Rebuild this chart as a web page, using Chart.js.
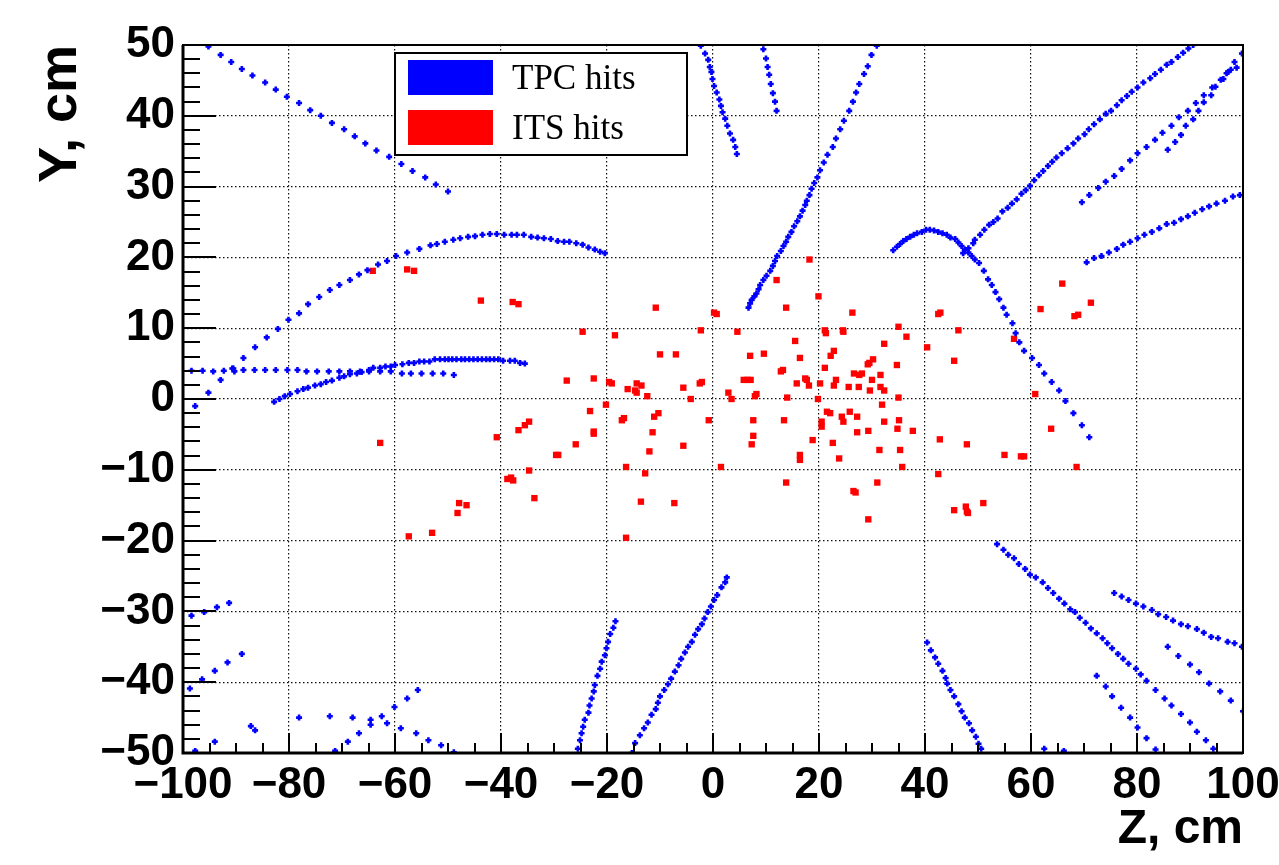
<!DOCTYPE html>
<html>
<head>
<meta charset="utf-8">
<script src="https://cdn.jsdelivr.net/npm/chart.js@4.4.0/dist/chart.umd.min.js"></script>
<style>
  html, body { margin: 0; padding: 0; background: #fff; }
  #wrap { width: 1279px; height: 865px; }
</style>
</head>
<body>
<div id="wrap"><canvas id="hits" width="1279" height="865"></canvas></div>
<script>
// TPC tracks, [z, y] in cm
const trackTopLeft = [[-95.2,49.8],[-92.9,48.6],[-90.9,47.6],[-88.9,46.6],[-86.9,45.7],[-84.5,44.7],[-82.5,43.7],[-80.4,42.7],[-78.1,41.8],[-76.0,40.8],[-74.0,40.0],[-71.9,39.0],[-69.6,38.1],[-67.6,37.1],[-65.6,36.1],[-63.5,35.1],[-61.1,34.2],[-58.8,33.2],[-56.7,32.2],[-54.3,31.3],[-52.3,30.3],[-50.0,29.3]];
const trackBigArc = [[-97.7,-1.0],[-95.2,0.9],[-92.9,2.7],[-90.5,4.3],[-88.6,5.8],[-86.4,7.3],[-84.2,8.7],[-82.1,9.9],[-80.1,11.2],[-78.1,12.1],[-76.4,13.4],[-74.3,14.4],[-72.3,15.4],[-70.5,16.1],[-68.5,16.8],[-66.8,17.6],[-65.2,18.2],[-63.2,19.0],[-61.5,19.5],[-59.8,20.2],[-57.7,20.7],[-55.4,21.2],[-53.3,21.7],[-52.1,21.9],[-50.6,22.2],[-49.0,22.5],[-47.7,22.7],[-46.2,22.9],[-44.9,23.0],[-43.5,23.2],[-42.1,23.3],[-40.8,23.3],[-39.4,23.2],[-38.0,23.2],[-37.0,23.2],[-35.7,23.2],[-34.3,22.9],[-33.1,22.8],[-31.9,22.7],[-30.6,22.6],[-29.3,22.3],[-28.1,22.2],[-27.1,22.2],[-25.8,22.0],[-24.6,21.8],[-23.5,21.4],[-22.3,21.1],[-21.3,20.8],[-20.4,20.6]];
const trackFlatRow = [[-98.4,4.0],[-96.3,4.0],[-94.3,3.9],[-92.3,4.0],[-90.7,4.3],[-90.3,3.9],[-88.6,4.1],[-86.5,4.1],[-84.5,4.1],[-82.5,4.1],[-80.3,4.1],[-78.4,4.1],[-76.7,3.9],[-74.7,3.9],[-72.5,3.9],[-70.5,3.9],[-68.5,3.9],[-66.6,3.9],[-64.9,3.9],[-62.8,3.9],[-60.8,3.9],[-58.7,3.6],[-57.0,3.6],[-55.0,3.6],[-52.9,3.6],[-50.9,3.6],[-48.9,3.4]];
const trackLowArc = [[-82.8,-0.4],[-81.8,0.0],[-80.8,0.4],[-79.8,0.7],[-78.4,1.1],[-77.3,1.4],[-76.4,1.6],[-75.1,1.9],[-74.0,2.1],[-73.0,2.4],[-71.9,2.6],[-70.5,3.0],[-69.6,3.2],[-68.5,3.5],[-67.2,3.6],[-66.3,3.8],[-64.9,4.1],[-64.1,4.4],[-62.8,4.4],[-61.8,4.6],[-60.8,4.6],[-60.0,4.8],[-58.6,4.9],[-57.4,5.1],[-56.4,5.1],[-55.4,5.3],[-54.5,5.3],[-53.5,5.3],[-52.5,5.6],[-51.5,5.6],[-50.6,5.6],[-49.9,5.6],[-49.2,5.6],[-48.4,5.6],[-47.5,5.6],[-46.8,5.6],[-46.0,5.6],[-45.2,5.6],[-44.4,5.6],[-43.6,5.6],[-42.8,5.6],[-42.1,5.6],[-41.3,5.6],[-40.5,5.6],[-39.6,5.4],[-38.3,5.4],[-37.4,5.4],[-36.4,5.1],[-35.5,5.0]];
const trackTopCentre = [[-2.3,49.9],[-1.5,48.8],[-0.9,47.9],[-0.6,46.9],[-0.3,46.2],[-0.1,45.2],[0.2,44.2],[0.7,43.3],[1.2,42.3],[1.5,41.4],[1.8,40.5],[2.3,39.6],[2.7,38.6],[3.2,37.5],[3.8,36.6],[4.2,35.6],[4.5,34.6]];
const trackTopShort = [[9.5,49.4],[10.0,48.1],[10.3,46.9],[10.6,45.8],[10.9,44.5],[11.3,43.2],[11.7,42.0],[12.0,40.7]];
const trackSteep = [[30.9,49.9],[29.9,48.6],[29.2,47.0],[28.5,45.9],[27.6,44.5],[27.0,43.3],[26.4,42.0],[25.7,40.7],[24.7,39.3],[24.0,38.1],[23.2,36.8],[22.6,35.6],[21.6,34.5],[20.9,33.4],[20.2,32.3],[19.7,31.3],[19.1,30.5],[18.6,29.7],[18.2,28.8],[17.7,28.0],[17.4,27.4],[16.9,26.6],[16.4,25.8],[15.9,25.1],[15.3,24.4],[14.8,23.6],[14.2,22.9],[13.8,22.2],[13.3,21.6],[12.8,20.9],[12.1,20.2],[11.7,19.5],[11.3,18.8],[10.8,18.1],[10.1,17.4],[9.5,16.8],[8.9,16.1],[8.6,15.5],[8.2,14.9],[7.8,14.5],[7.3,14.0],[7.0,13.5],[6.7,12.9]];
const trackRightArc = [[34.0,21.0],[34.7,21.5],[35.3,21.9],[35.9,22.3],[36.5,22.6],[37.2,22.9],[37.9,23.2],[38.5,23.4],[39.4,23.6],[40.2,23.9],[40.9,23.9],[41.7,23.8],[42.5,23.6],[43.3,23.4],[44.1,23.2],[44.8,22.8],[45.7,22.6],[46.3,22.1],[46.9,21.6],[47.5,21.1],[48.2,20.7],[48.8,20.2],[49.4,19.7],[50.2,19.2],[51.1,18.1],[51.9,16.9],[52.6,16.1],[53.3,15.1],[54.0,14.1],[54.8,12.9],[55.4,11.9],[56.5,10.7],[57.1,9.3],[57.8,8.0],[58.7,6.8],[60.2,5.8],[61.5,4.8],[62.5,3.6],[63.9,2.4],[65.3,1.2],[66.5,-0.3],[68.0,-2.0],[69.6,-3.7],[71.0,-5.4]];
const trackLongDiag = [[47.2,20.6],[48.2,21.3],[49.1,22.0],[49.4,22.5],[50.4,23.2],[51.2,23.9],[52.1,24.6],[52.9,25.0],[53.7,25.5],[54.6,26.5],[55.6,27.0],[56.4,27.6],[57.3,28.2],[58.2,29.0],[59.0,29.5],[59.8,30.1],[60.6,30.9],[61.5,31.6],[62.3,32.2],[63.2,32.9],[64.0,33.5],[64.8,34.1],[65.8,34.7],[66.9,35.4],[68.0,36.1],[68.9,36.8],[70.1,37.4],[70.9,38.1],[71.9,38.8],[73.0,39.5],[74.1,40.3],[75.1,40.7],[76.2,41.5],[77.1,42.2],[78.1,42.8],[79.0,43.4],[80.1,44.0],[81.2,44.7],[82.5,45.3],[83.4,45.9],[84.5,46.5],[85.6,47.2],[86.5,47.6],[87.7,48.3],[88.7,48.9],[89.7,49.5],[90.6,50.0]];
const trackUpperRight = [[69.6,27.8],[71.0,28.8],[72.7,29.8],[74.1,30.7],[75.7,31.5],[77.1,32.5],[78.7,33.7],[80.1,34.7],[81.8,35.6],[83.4,36.6],[84.8,37.6],[86.5,38.6],[87.9,39.8],[89.6,40.7],[91.1,41.8],[92.6,42.9],[94.2,44.0],[95.8,45.1],[97.2,46.2],[98.4,47.6],[99.8,48.8]];
const trackUpperRight2 = [[85.8,35.2],[87.2,36.3],[88.3,37.3],[89.2,38.6],[90.6,39.5],[91.6,40.7],[92.6,41.9],[94.0,42.9],[94.8,44.1],[96.3,45.2],[96.9,46.0],[97.7,46.5],[98.8,46.8]];
const trackMidRight = [[70.5,19.3],[71.9,19.9],[73.3,20.2],[74.7,20.7],[76.2,21.2],[77.4,21.8],[78.7,22.2],[80.1,22.7],[81.4,23.2],[82.8,23.6],[84.2,24.1],[85.6,24.7],[87.0,24.9],[88.3,25.4],[89.6,25.8],[90.9,26.3],[92.3,26.8],[93.6,27.2],[95.0,27.6],[96.6,28.0],[98.1,28.6],[99.4,28.8]];
const trackBottomLeft = [[-98.4,-30.6],[-96.0,-30.1],[-93.6,-29.4],[-91.3,-28.8],[-98.7,-40.9],[-96.4,-39.6],[-94.0,-38.4],[-91.6,-37.2],[-88.9,-36.0],[-97.7,-49.7],[-94.0,-48.4],[-87.2,-46.2],[-86.4,-46.8],[-78.1,-45.0],[-72.3,-44.8],[-71.3,-49.7],[-68.9,-48.4],[-68.0,-45.0],[-66.8,-47.2],[-64.6,-45.3],[-64.6,-46.0],[-62.5,-44.8],[-61.5,-45.8],[-60.1,-43.5],[-57.7,-42.3],[-55.7,-41.1],[-58.9,-46.5],[-56.0,-47.2],[-53.7,-48.2],[-51.3,-48.9],[-48.9,-49.9],[62.5,-49.4],[66.2,-49.7]];
const trackBottomA = [[-25.5,-49.4],[-25.1,-48.2],[-24.8,-47.2],[-24.5,-46.3],[-24.2,-45.3],[-23.5,-44.3],[-23.3,-43.3],[-22.9,-42.3],[-22.5,-41.3],[-22.3,-40.4],[-21.8,-39.1],[-21.3,-38.1],[-21.0,-37.1],[-20.4,-36.2],[-20.1,-35.2],[-19.8,-34.3],[-19.4,-33.2],[-18.8,-32.3],[-18.4,-31.4]];
const trackBottomB = [[-15.3,-50.0],[-14.7,-48.6],[-13.8,-47.5],[-13.0,-46.5],[-12.3,-45.7],[-11.6,-44.6],[-10.8,-43.8],[-10.4,-42.9],[-10.0,-42.0],[-9.2,-41.1],[-8.5,-40.3],[-7.9,-39.5],[-7.2,-38.5],[-6.5,-37.6],[-6.0,-36.7],[-5.3,-35.8],[-4.7,-35.0],[-4.0,-34.3],[-3.4,-33.3],[-2.8,-32.5],[-2.1,-31.8],[-1.6,-31.0],[-1.0,-30.1],[-0.4,-29.3],[0.2,-28.4],[0.8,-27.7],[1.6,-26.6],[2.3,-25.9],[2.6,-25.2]];
const trackBottomC = [[40.4,-34.4],[41.1,-35.5],[41.9,-36.5],[42.5,-37.4],[43.3,-38.4],[43.9,-39.4],[44.2,-40.2],[44.8,-41.1],[45.5,-42.0],[46.3,-43.1],[46.9,-44.1],[47.5,-45.0],[48.3,-45.8],[48.9,-46.8],[49.6,-47.7],[50.1,-48.7],[50.6,-49.4]];
const trackBottomD = [[53.6,-20.5],[54.8,-21.3],[55.7,-22.0],[56.8,-22.5],[57.7,-23.3],[58.9,-24.0],[59.8,-24.8],[60.9,-25.2],[62.2,-25.9],[63.2,-26.7],[64.2,-27.4],[65.3,-28.2],[66.3,-28.9],[67.4,-29.7],[68.3,-30.1],[69.2,-30.9],[70.3,-31.6],[71.3,-32.4],[72.4,-33.1],[73.5,-33.8],[74.4,-34.5],[75.3,-35.2],[76.4,-36.0],[77.4,-36.7],[78.4,-37.4],[79.8,-38.1],[80.7,-38.9],[81.8,-39.8],[83.5,-41.1],[85.2,-42.3],[86.5,-43.3],[88.3,-44.5],[90.0,-45.7],[91.3,-47.0],[93.0,-48.2],[94.4,-49.4]];
const trackBottomE = [[75.7,-27.4],[77.1,-27.9],[78.4,-28.4],[79.8,-28.9],[81.2,-29.3],[82.8,-29.8],[84.0,-30.4],[85.5,-30.8],[86.8,-31.3],[88.3,-31.8],[89.6,-32.1],[91.3,-32.5],[92.6,-33.0],[94.0,-33.6],[95.3,-33.8],[97.1,-34.3],[98.4,-34.5],[99.8,-35.0]];
const trackBottomF = [[85.8,-35.0],[87.8,-36.3],[90.0,-37.5],[91.7,-38.6],[93.6,-40.2],[95.7,-41.3],[97.7,-42.6],[100.0,-44.1]];
const trackBottomG = [[72.4,-39.1],[74.1,-40.6],[75.3,-42.0],[77.0,-43.6],[78.7,-45.0],[80.1,-46.4],[81.8,-47.9],[83.5,-49.5]];

// ITS hits, [z, y] in cm
const itsHits = [[-64.2,18.1],[-57.7,18.3],[-56.4,18.1],[-62.8,-6.2],[-57.4,-19.4],[-53.0,-18.9],
  [-43.8,13.9],[-37.8,13.7],[-36.7,13.4],[-10.8,12.9],[-24.6,9.5],[-18.5,9.0],[-2.3,9.7],[-10.0,6.3],[-7.0,6.3],
  [-27.6,2.6],[-22.5,2.9],[-19.6,2.4],[-19.1,2.2],[-16.1,1.4],[-14.4,2.2],[-13.5,1.9],[-14.7,1.2],[-14.4,0.9],[-12.4,0.4],
  [-5.6,1.6],[-2.5,2.2],[-2.1,2.4],[-4.2,0.0],[-20.2,-0.8],[-23.2,-1.7],[-17.2,-3.0],[-16.8,-2.7],[-10.3,-2.0],[-11.1,-2.5],
  [-0.8,-3.0],[-34.7,-3.2],[-35.5,-3.7],[-36.7,-4.4],[-40.8,-5.4],[-22.5,-4.9],[-22.5,-4.6],[-11.4,-4.7],[-25.9,-6.4],[-5.6,-6.6],
  [-29.6,-7.9],[-29.2,-7.9],[-12.0,-7.4],[-16.4,-9.6],[-12.8,-10.5],[-34.7,-10.1],[-38.8,-11.3],[-38.1,-11.1],[-37.7,-11.5],
  [-33.7,-14.0],[-47.9,-14.7],[-46.5,-15.0],[-48.2,-16.1],[-13.6,-14.5],[-7.3,-14.7],[-16.4,-19.6],
  [18.2,19.7],[12.0,16.8],[19.9,14.5],[13.8,12.9],[0.2,12.2],[0.7,12.0],[26.3,12.2],[42.5,12.0],[42.9,12.2],[4.6,9.5],
  [21.1,9.7],[21.3,9.3],[24.5,9.7],[24.6,9.5],[35.0,10.2],[36.5,8.8],[46.3,9.7],[15.5,8.2],[32.3,7.8],[40.4,7.3],
  [7.0,6.1],[9.6,6.4],[16.4,5.8],[22.8,6.8],[22.2,6.1],[30.2,5.6],[29.5,5.1],[29.2,4.9],[34.7,4.8],[45.5,5.4],
  [21.1,4.4],[12.8,3.9],[13.2,4.1],[5.8,2.7],[6.5,2.7],[7.1,2.7],[17.4,2.9],[17.7,2.7],[18.1,1.9],[15.8,2.2],
  [20.2,2.2],[23.2,2.7],[22.8,1.9],[26.6,3.6],[27.6,3.4],[28.1,3.6],[30.0,2.7],[31.6,3.4],[25.6,1.7],[27.5,1.7],
  [29.6,1.2],[31.6,1.7],[32.3,1.2],[2.9,0.9],[3.5,0.0],[7.9,0.4],[8.2,0.7],[14.0,0.2],[19.8,0.0],[7.6,-3.0],
  [13.4,-3.0],[21.5,-1.8],[22.1,-2.0],[25.8,-1.8],[27.2,-2.5],[24.3,-2.5],[24.6,-3.2],[20.5,-3.2],[20.5,-3.9],[31.9,-0.8],
  [35.0,0.2],[35.1,-3.0],[32.3,-3.2],[34.8,-4.2],[37.7,-4.5],[29.3,-4.5],[27.2,-4.7],[7.6,-5.2],[7.3,-6.4],[18.8,-5.8],
  [22.6,-6.2],[16.4,-7.9],[16.4,-8.6],[31.4,-7.2],[35.3,-7.2],[42.8,-5.7],[47.9,-6.4],[23.8,-8.4],[1.5,-9.6],[35.7,-9.6],
  [42.5,-10.6],[13.8,-11.8],[26.5,-13.0],[26.9,-13.2],[31.0,-11.8],[29.3,-17.0],[45.5,-15.7],[47.7,-15.2],[47.9,-15.9],[48.1,-16.1],
  [51.0,-14.7],[65.9,16.3],[71.3,13.6],[61.8,12.7],[68.2,11.7],[68.9,11.9],[56.8,8.5],[60.8,0.7],[63.8,-4.2],[55.0,-7.9],
  [58.1,-8.1],[58.7,-8.1],[68.6,-9.6]];

const tpcTracks = [trackTopLeft, trackBigArc, trackFlatRow, trackLowArc, trackTopCentre, trackTopShort, trackSteep,
  trackRightArc, trackLongDiag, trackUpperRight, trackUpperRight2, trackMidRight, trackBottomLeft, trackBottomA,
  trackBottomB, trackBottomC, trackBottomD, trackBottomE, trackBottomF, trackBottomG];

const seriesNames = ['TPC hits', 'ITS hits'];
const seriesColors = ['#0000ff', '#ff0000'];

const toPoints = arr => arr.map(p => ({ x: p[0], y: p[1] }));
const tpcPoints = toPoints([].concat(...tpcTracks));
const itsPoints = toPoints(itsHits);

const minusLabel = v => v < 0 ? '\u2212' + Math.abs(v) : String(v);
const boldFont = { family: 'Liberation Sans', weight: 'bold', size: 44 };

// ROOT style: ticks inside the frame, thick frame
const frameTicks = {
    id: 'frameTicks',
    afterDatasetsDraw(chart) {
        const { ctx, chartArea: a, scales } = chart;
        ctx.save();
        ctx.strokeStyle = '#000';
        ctx.lineWidth = 2;
        ctx.beginPath();
        for (let v = -50; v <= 50; v += 2) {
            const y = Math.round(scales.y.getPixelForValue(v));
            const len = v % 10 === 0 ? 33 : 17;
            ctx.moveTo(a.left, y);
            ctx.lineTo(a.left + len, y);
        }
        for (let v = -100; v <= 100; v += 5) {
            const x = Math.round(scales.x.getPixelForValue(v));
            const len = v % 20 === 0 ? 20 : 10;
            ctx.moveTo(x, a.bottom);
            ctx.lineTo(x, a.bottom - len);
        }
        ctx.stroke();
        ctx.lineWidth = 2;
        ctx.strokeRect(a.left, a.top, a.right - a.left, a.bottom - a.top);
        ctx.lineWidth = 3;
        ctx.beginPath();
        ctx.moveTo(a.left, a.top);
        ctx.lineTo(a.left, a.bottom);
        ctx.lineTo(a.right, a.bottom);
        ctx.stroke();
        ctx.restore();
    }
};

const legendBox = {
    id: 'legendBox',
    afterDraw(chart) {
        const ctx = chart.ctx;
        ctx.save();
        ctx.fillStyle = '#fff';
        ctx.fillRect(395, 53, 292, 102);
        ctx.strokeStyle = '#000';
        ctx.lineWidth = 2;
        ctx.strokeRect(395, 53, 292, 102);
        ctx.font = '35px "Liberation Serif"';
        ctx.textBaseline = 'alphabetic';
        seriesNames.forEach((name, i) => {
            ctx.fillStyle = seriesColors[i];
            ctx.fillRect(408, 60 + i * 50, 85, 35);
            ctx.fillStyle = '#000';
            ctx.fillText(name, 512, 89 + i * 50);
        });
        ctx.restore();
    }
};

new Chart(document.getElementById('hits').getContext('2d'), {
    type: 'scatter',
    data: {
        datasets: [{
            label: seriesNames[0],
            data: tpcPoints,
            pointStyle: 'cross',
            pointRadius: 3,
            borderWidth: 2.6,
            borderColor: seriesColors[0],
            backgroundColor: seriesColors[0]
        }, {
            label: seriesNames[1],
            data: itsPoints,
            pointStyle: 'rect',
            pointRadius: 4.5,
            borderWidth: 0,
            backgroundColor: seriesColors[1]
        }]
    },
    options: {
        responsive: false,
        animation: false,
        devicePixelRatio: 1,
        layout: { padding: { top: 45, right: 36, bottom: 0, left: 0 } },
        plugins: { legend: { display: false }, tooltip: { enabled: false } },
        scales: {
            x: {
                type: 'linear', min: -100, max: 100,
                afterFit(s) { s.height = 112; s.paddingLeft = 0; s.paddingRight = 0; },
                ticks: { stepSize: 20, color: '#000', font: boldFont, padding: 6, maxRotation: 0, autoSkip: false, callback: minusLabel },
                grid: { color: '#111', lineWidth: 1.2, drawTicks: false },
                border: { display: false, dash: [1.5, 2.5] },
                title: { display: true, text: 'Z, cm', align: 'end', color: '#000', font: { family: 'Liberation Sans', weight: 'bold', size: 48 }, padding: { top: 0, bottom: 6 } }
            },
            y: {
                type: 'linear', min: -50, max: 50,
                afterFit(s) { s.width = 183; s.paddingTop = 0; s.paddingBottom = 0; },
                ticks: { stepSize: 10, color: '#000', font: boldFont, padding: 8, autoSkip: false, callback: minusLabel },
                grid: { color: '#111', lineWidth: 1.2, drawTicks: false },
                border: { display: false, dash: [1.5, 2.5] },
                title: { display: true, text: 'Y, cm', align: 'end', color: '#000', font: { family: 'Liberation Sans', weight: 'bold', size: 54 }, padding: { top: 29, bottom: 0 } }
            }
        }
    },
    plugins: [frameTicks, legendBox]
});
</script>
</body>
</html>
